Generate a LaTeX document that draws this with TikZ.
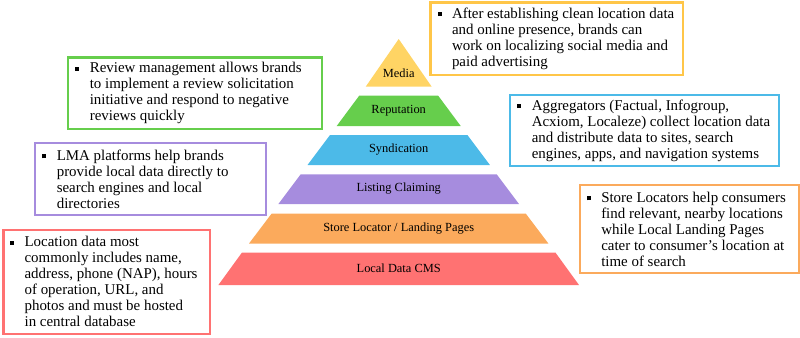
\documentclass[tikz,border=0pt]{standalone}
\usepackage{fontspec}
\setmainfont{Liberation Serif}
\usetikzlibrary{positioning}
\definecolor{lmyellow}{RGB}{255,212,100}
\definecolor{lmyellowline}{RGB}{255,198,72}
\definecolor{lmgreen}{RGB}{102,206,76}
\definecolor{lmblue}{RGB}{76,186,232}
\definecolor{lmpurple}{RGB}{166,140,222}
\definecolor{lmorange}{RGB}{251,170,92}
\definecolor{lmred}{RGB}{255,114,114}
\newcommand{\lmpx}{0.75pt}
\newcommand{\lmitem}{\leavevmode\llap{\rule[1.5pt]{3pt}{3pt}\hspace{7.8pt}}}
\tikzset{
  lmlayer/.style={font=\fontsize{9.3}{11}\selectfont, inner sep=1pt},
  lmbox/.style={draw=#1, line width=1.8pt, anchor=north west, inner sep=0pt},
  lmtext/.style={font=\fontsize{11.2}{12}\selectfont, align=left, inner sep=0pt}
}

\begin{document}
\begin{tikzpicture}[x=0.75pt, y=-0.75pt]
  \useasboundingbox (0,0) rectangle (800,337);

  % pyramid, bottom to top
  \fill[lmred] (218.4,285) -- (242.0,252.5) -- (555.4,252.5) -- (579.0,285) -- cycle;
  \node[lmlayer] (cms) at (398.7,268.7) {Local Data CMS};
  \fill[lmorange] (249.0,243.5) -- (271.7,213.5) -- (525.7,213.5) -- (548.4,243.5) -- cycle;
  \node[lmlayer] (locator) at (398.7,228.5) {Store Locator / Landing Pages};
  \fill[lmpurple] (278.4,204) -- (300.7,174.3) -- (496.7,174.3) -- (519.0,204) -- cycle;
  \node[lmlayer] (claiming) at (398.7,189) {Listing Claiming};
  \fill[lmblue] (307.5,165) -- (330.0,135) -- (467.4,135) -- (489.9,165) -- cycle;
  \node[lmlayer] (syndication) at (398.7,150) {Syndication};
  \fill[lmgreen] (336.7,126) -- (359.2,95.7) -- (438.2,95.7) -- (460.7,126) -- cycle;
  \node[lmlayer] (reputation) at (398.7,111) {Reputation};
  \fill[lmyellow] (365.7,86.7) -- (398.7,39) -- (431.7,86.7) -- cycle;
  \node[lmlayer] (media) at (398.7,73) {Media};

  % explanation boxes
  \node[lmbox=lmyellowline, minimum width=252.8*\lmpx, minimum height=72.3*\lmpx] (mediabox) at (429.2,1.2) {};
  \node[lmtext, right=16.9pt of mediabox.west] (mediatext) {\lmitem After establishing clean location data\\
    and online presence, brands can\\
    work on localizing social media and\\
    paid advertising};

  \node[lmbox=lmgreen, minimum width=253.5*\lmpx, minimum height=71.8*\lmpx] (reviewbox) at (67,56.2) {};
  \node[lmtext, right=16.9pt of reviewbox.west] (reviewtext) {\lmitem Review management allows brands\\
    to implement a review solicitation\\
    initiative and respond to negative\\
    reviews quickly};

  \node[lmbox=lmblue, minimum width=268.8*\lmpx, minimum height=71.3*\lmpx] (aggbox) at (509,93.5) {};
  \node[lmtext, right=16.9pt of aggbox.west] (aggtext) {\lmitem Aggregators (Factual, Infogroup,\\
    Acxiom, Localeze) collect location data\\
    and distribute data to sites, search\\
    engines, apps, and navigation systems};

  \node[lmbox=lmpurple, minimum width=230.7*\lmpx, minimum height=71.8*\lmpx] (lmabox) at (34,142) {};
  \node[lmtext, right=16.9pt of lmabox.west] (lmatext) {\lmitem LMA platforms help brands\\
    provide local data directly to\\
    search engines and local\\
    directories};

  \node[lmbox=lmorange, minimum width=219*\lmpx, minimum height=88*\lmpx] (storebox) at (579,184) {};
  \node[lmtext, right=16.5pt of storebox.west] (storetext) {\lmitem Store Locators help consumers\\
    find relevant, nearby locations\\
    while Local Landing Pages\\
    cater to consumer’s location at\\
    time of search};

  \node[lmbox=lmred, minimum width=206.6*\lmpx, minimum height=104.3*\lmpx] (cmsbox) at (2.2,228.5) {};
  \node[lmtext, right=16.6pt of cmsbox.west] (cmstext) {\lmitem Location data most\\
    commonly includes name,\\
    address, phone (NAP), hours\\
    of operation, URL, and\\
    photos and must be hosted\\
    in central database};
\end{tikzpicture}
\end{document}
